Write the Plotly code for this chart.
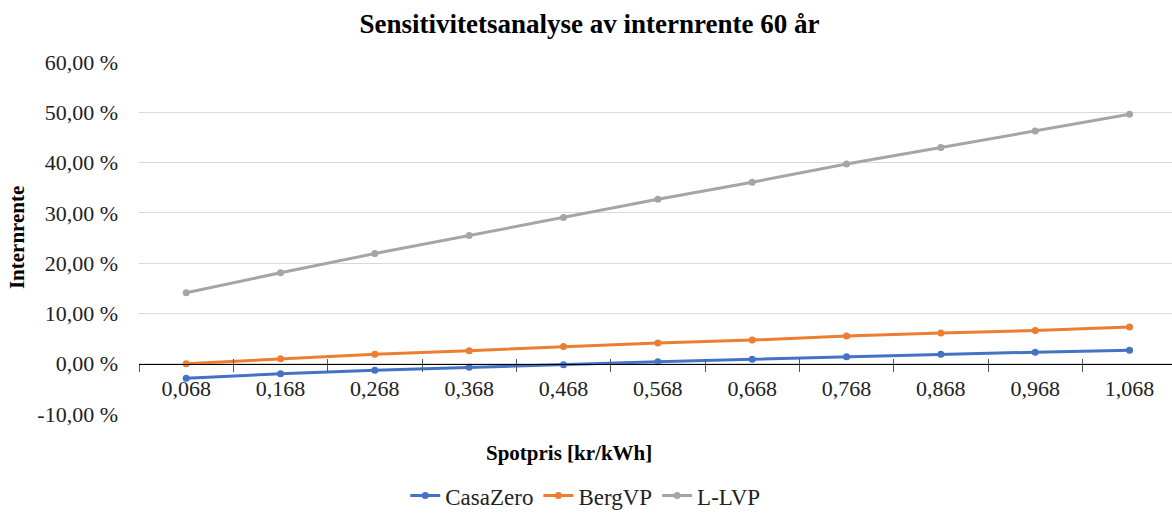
import plotly.graph_objects as go

categories = ["0,068", "0,168", "0,268", "0,368", "0,468", "0,568",
              "0,668", "0,768", "0,868", "0,968", "1,068"]
casazero = [-2.9, -2.0, -1.3, -0.7, -0.2, 0.4, 0.9, 1.4, 1.9, 2.3, 2.7]
bergvp = [0.0, 1.0, 1.9, 2.6, 3.4, 4.1, 4.7, 5.5, 6.1, 6.6, 7.3]
llvp = [14.1, 18.1, 21.9, 25.5, 29.1, 32.7, 36.1, 39.7, 43.0, 46.3, 49.6]
ytick_vals = [-10, 0, 10, 20, 30, 40, 50, 60]
ytick_text = ["-10,00 %", "0,00 %", "10,00 %", "20,00 %", "30,00 %",
              "40,00 %", "50,00 %", "60,00 %"]

series = [("CasaZero", casazero, "#4472C4"),
          ("BergVP", bergvp, "#ED7D31"),
          ("L-LVP", llvp, "#A5A5A5")]

FONT = "Liberation Serif, Times New Roman, serif"

fig = go.Figure()
for name, vals, col in series:
    fig.add_trace(go.Scatter(
        x=categories, y=vals, name=name, mode="lines+markers",
        line=dict(color=col, width=3), marker=dict(color=col, size=7)))

# invisible trace on overlay axis for inside ticks
fig.add_trace(go.Scatter(x=categories, y=[None]*len(categories), xaxis="x2",
                         showlegend=False, hoverinfo="skip"))

fig.update_layout(
    width=1172, height=513,
    margin=dict(l=139, r=0, t=62, b=99, autoexpand=False),
    paper_bgcolor="white", plot_bgcolor="white",
    font=dict(family=FONT, size=22, color="#222222"),
    title=dict(text="<b>Sensitivitetsanalyse av internrente 60 år</b>",
               x=0.503, xanchor="center", y=0.955, yanchor="middle",
               font=dict(family=FONT, size=27, color="black")),
    xaxis=dict(type="category", range=[-0.5, 10.45], anchor="free",
               position=1/7, showline=True, linecolor="black", linewidth=1,
               ticks="outside", ticklen=7, tickcolor="#555555",
               tickson="boundaries", showgrid=False, zeroline=False,
               tickfont=dict(size=22, color="#222222"), ticklabelstandoff=5),
    xaxis2=dict(type="category", matches="x", overlaying="x", anchor="free",
                position=1/7, ticks="inside", ticklen=5, tickcolor="#555555",
                tickson="boundaries", showticklabels=False, showgrid=False,
                showline=False, zeroline=False),
    yaxis=dict(range=[-10, 60], tickvals=ytick_vals, ticktext=ytick_text,
               showgrid=True, gridcolor="#D9D9D9", gridwidth=1,
               zeroline=False, showline=False, ticks="",
               tickfont=dict(size=22, color="#222222"), ticklabelstandoff=20),
    legend=dict(orientation="h", x=0.432, xanchor="center", y=-0.232,
                yanchor="middle", font=dict(size=23, color="#222222"),
                itemwidth=30, tracegroupgap=0),
    showlegend=True,
)

fig.add_annotation(text="<b>Internrente</b>", xref="paper", yref="paper",
                   x=-0.118, y=0.5, textangle=-90, showarrow=False,
                   font=dict(family=FONT, size=21, color="black"),
                   xanchor="center", yanchor="middle")
fig.add_annotation(text="<b>Spotpris [kr/kWh]</b>", xref="paper", yref="paper",
                   x=(569 - 139) / 1033, y=-(453 - 414) / 352, showarrow=False,
                   font=dict(family=FONT, size=21, color="black"),
                   xanchor="center", yanchor="middle")

fig.write_html("out.html")
